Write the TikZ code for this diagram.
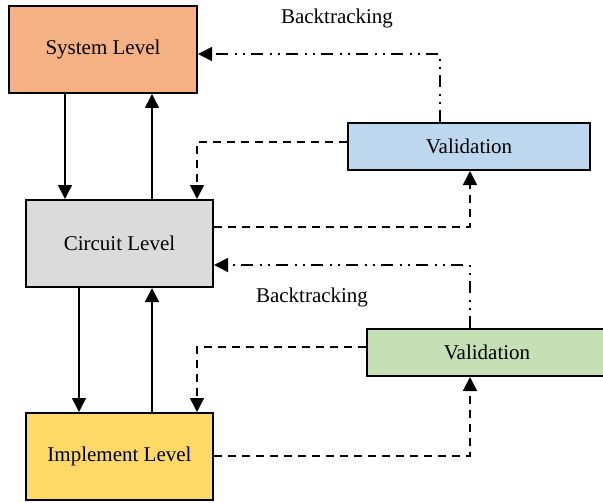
\documentclass[tikz,border=0pt]{standalone}
\usepackage{fontspec}
\setmainfont{Liberation Serif}
\usetikzlibrary{arrows.meta}
\definecolor{sysfill}{HTML}{F4B183}
\definecolor{cirfill}{HTML}{DBDBDB}
\definecolor{impfill}{HTML}{FED966}
\definecolor{valAfill}{HTML}{BDD7EE}
\definecolor{valBfill}{HTML}{C5E0B4}
\tikzset{
  levelbox/.style={draw=black, line width=2pt, rectangle, inner sep=0pt,
    font=\fontsize{21}{25}\selectfont},
  tip/.style={-{Triangle[length=14pt,width=14pt]}},
  solidarrow/.style={tip, line width=1.6pt},
  dasharrow/.style={tip, line width=1.6pt, dash pattern=on 8pt off 6pt},
  backarrow/.style={tip, line width=1.6pt, dash pattern=on 12pt off 6pt on 2pt off 6pt on 2pt off 7pt},
  lbl/.style={font=\fontsize{21}{25}\selectfont, inner sep=0pt}
}
\begin{document}
\begin{tikzpicture}[x=1pt,y=-1pt]
\useasboundingbox (0,0) rectangle (603,503);
% boxes
\node[levelbox, fill=sysfill, minimum width=188pt, minimum height=87pt] (sys) at (103,49.5) {System Level};
\node[levelbox, fill=cirfill, minimum width=187pt, minimum height=87pt] (cir) at (119.5,243.5) {Circuit Level};
\node[levelbox, fill=impfill, minimum width=187pt, minimum height=87pt] (imp) at (119.5,456.5) {Implement Level};
\node[levelbox, fill=valAfill, minimum width=242pt, minimum height=47pt] (valA) at (469,146.5) {Validation};
\node[levelbox, fill=valBfill, minimum width=240pt, minimum height=47pt] (valB) at (487,352.5) {Validation};
% labels
\node[lbl] (bt1) at (337,18) {Backtracking};
\node[lbl] (bt2) at (312,297) {Backtracking};
% helper coordinates
\coordinate (xa) at (65,0);
\coordinate (xb) at (152,0);
\coordinate (xc) at (79,0);
\coordinate (xd) at (197,0);
\coordinate (xe) at (440,0);
\coordinate (xf) at (470,0);
\coordinate (ya) at (0,54);
\coordinate (yb) at (0,142);
\coordinate (yc) at (0,227);
\coordinate (yd) at (0,265);
\coordinate (ye) at (0,347);
\coordinate (yf) at (0,456);
% vertical level arrows
\draw[solidarrow] (sys.south -| xa) -- (cir.north -| xa);
\draw[solidarrow] (cir.north -| xb) -- (sys.south -| xb);
\draw[solidarrow] (cir.south -| xc) -- (imp.north -| xc);
\draw[solidarrow] (imp.north -| xb) -- (cir.south -| xb);
% backtracking
\draw[backarrow] (valA.north -| xe) -- (xe |- ya) -- (sys.east |- ya);
\draw[backarrow] (valB.north -| xf) -- (xf |- yd) -- (cir.east |- yd);
% validation dashed
\draw[dasharrow] (valA.west |- yb) -- (xd |- yb) -- (cir.north -| xd);
\draw[dasharrow] (cir.east |- yc) -- (xf |- yc) -- (valA.south -| xf);
\draw[dasharrow] (valB.west |- ye) -- (xd |- ye) -- (imp.north -| xd);
\draw[dasharrow] (imp.east |- yf) -- (xf |- yf) -- (valB.south -| xf);
\end{tikzpicture}
\end{document}
